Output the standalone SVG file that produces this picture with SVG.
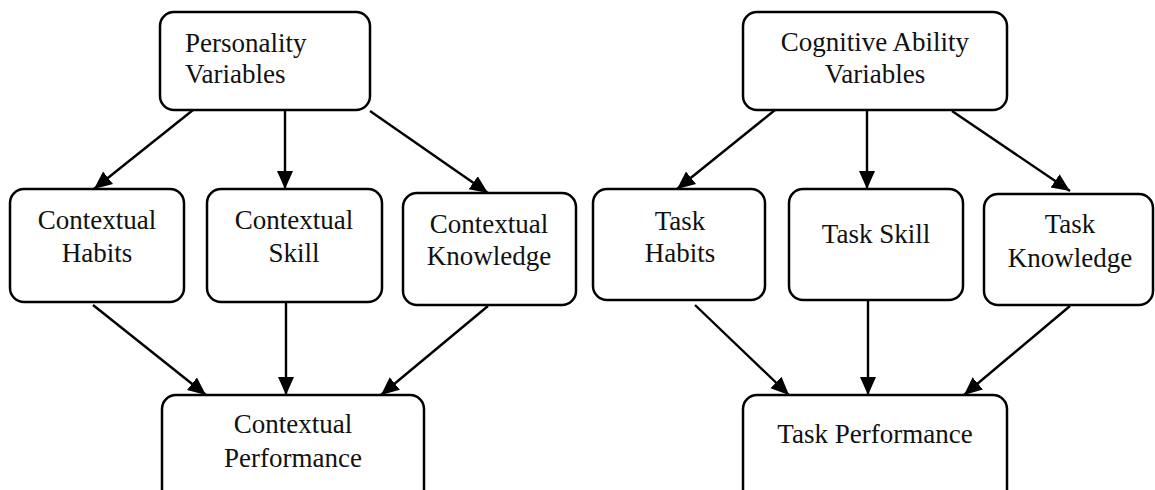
<svg xmlns="http://www.w3.org/2000/svg" width="1155" height="490" viewBox="0 0 1155 490">
<style>
.box{fill:#fff;stroke:#000;stroke-width:2.5}
.t{font-family:"Liberation Serif","Times New Roman",serif;font-size:27px;fill:#111;text-anchor:middle}
.s{text-anchor:start}
.c{stroke:#000;stroke-width:2.4;fill:none}
</style>
<defs>
<marker id="ah" markerUnits="userSpaceOnUse" markerWidth="20" markerHeight="20" viewBox="0 0 20 20" refX="18" refY="10" orient="auto">
<path d="M0,2 L18,10 L0,18 Z" fill="#000"/>
</marker>
</defs>
<rect width="1155" height="490" fill="#fff"/>
<g id="connectors">
<line class="c" x1="193" y1="110" x2="94" y2="189" marker-end="url(#ah)"/>
<line class="c" x1="285" y1="110" x2="285" y2="189" marker-end="url(#ah)"/>
<line class="c" x1="370" y1="111" x2="488" y2="193" marker-end="url(#ah)"/>
<line class="c" x1="93" y1="305" x2="206" y2="395" marker-end="url(#ah)"/>
<line class="c" x1="286" y1="302" x2="286" y2="395" marker-end="url(#ah)"/>
<line class="c" x1="488" y1="306" x2="381" y2="395" marker-end="url(#ah)"/>
<line class="c" x1="775" y1="110" x2="677" y2="189" marker-end="url(#ah)"/>
<line class="c" x1="867" y1="110" x2="867" y2="189" marker-end="url(#ah)"/>
<line class="c" x1="952" y1="111" x2="1070" y2="191" marker-end="url(#ah)"/>
<line class="c" x1="695" y1="305" x2="789" y2="395" marker-end="url(#ah)"/>
<line class="c" x1="868" y1="301" x2="868" y2="395" marker-end="url(#ah)"/>
<line class="c" x1="1070" y1="306" x2="964" y2="395" marker-end="url(#ah)"/>
</g>
<g id="personality">
<rect class="box" x="160" y="12" width="210" height="98" rx="14"/>
<text class="t s" x="185" y="52">Personality</text>
<text class="t s" x="185" y="83">Variables</text>
</g>
<g id="contextual-habits">
<rect class="box" x="10" y="189" width="174" height="113" rx="14"/>
<text class="t" x="97" y="229">Contextual</text>
<text class="t" x="97" y="262">Habits</text>
</g>
<g id="contextual-skill">
<rect class="box" x="207" y="189" width="175" height="113" rx="14"/>
<text class="t" x="294" y="229">Contextual</text>
<text class="t" x="294" y="262">Skill</text>
</g>
<g id="contextual-knowledge">
<rect class="box" x="403" y="193" width="173" height="112" rx="14"/>
<text class="t" x="489" y="233">Contextual</text>
<text class="t" x="489" y="265">Knowledge</text>
</g>
<g id="contextual-performance">
<rect class="box" x="162" y="395" width="262" height="110" rx="14"/>
<text class="t" x="293" y="433">Contextual</text>
<text class="t" x="293" y="467">Performance</text>
</g>
<g id="cognitive">
<rect class="box" x="743" y="12" width="264" height="98" rx="14"/>
<text class="t" x="875" y="51">Cognitive Ability</text>
<text class="t" x="875" y="83">Variables</text>
</g>
<g id="task-habits">
<rect class="box" x="593" y="189" width="172" height="111" rx="14"/>
<text class="t" x="680" y="230">Task</text>
<text class="t" x="680" y="262">Habits</text>
</g>
<g id="task-skill">
<rect class="box" x="789" y="189" width="174" height="111" rx="14"/>
<text class="t" x="876" y="243">Task Skill</text>
</g>
<g id="task-knowledge">
<rect class="box" x="984" y="194" width="169" height="111" rx="14"/>
<text class="t" x="1070" y="233">Task</text>
<text class="t" x="1070" y="267">Knowledge</text>
</g>
<g id="task-performance">
<rect class="box" x="743" y="395" width="264" height="110" rx="14"/>
<text class="t" x="875" y="443">Task Performance</text>
</g>
</svg>
